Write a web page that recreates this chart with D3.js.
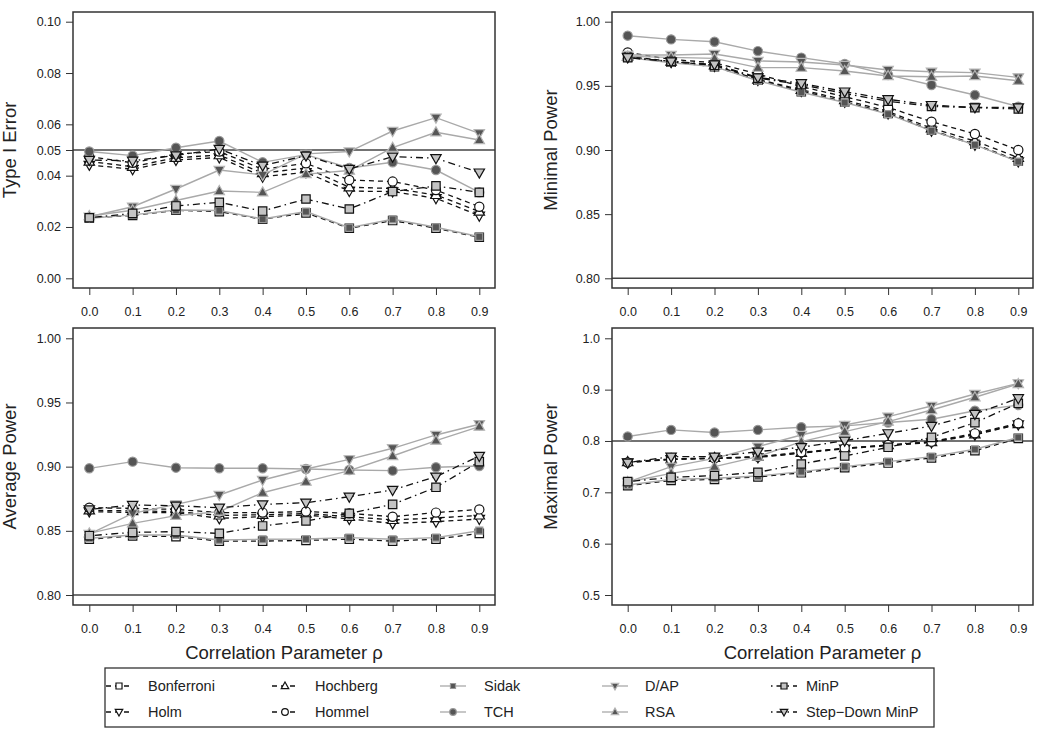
<!DOCTYPE html>
<html><head><meta charset="utf-8">
<script src="https://cdn.jsdelivr.net/npm/d3@7"></script>
<style>body{margin:0;background:#fff} text{font-family:"Liberation Sans",Arial,sans-serif;fill:#222}</style>
</head><body><svg id="c" width="1050" height="735"></svg>
<script>
const rho = [0,0.1,0.2,0.3,0.4,0.5,0.6,0.7,0.8,0.9];
const methods = ["Bonferroni","Holm","Hochberg","Hommel","Sidak","TCH","D/AP","RSA","MinP","Step\u2212Down MinP"];

// rows follow the order of `methods`
const typeIError = [
  [0.0235,0.0245,0.0265,0.026,0.023,0.0255,0.0195,0.0225,0.0195,0.016],
  [0.0442,0.0425,0.0461,0.0471,0.0396,0.0413,0.034,0.0338,0.0312,0.0244],
  [0.0455,0.0435,0.047,0.048,0.041,0.043,0.0355,0.035,0.0325,0.026],
  [0.0474,0.045,0.0484,0.0494,0.0425,0.0448,0.0383,0.0377,0.0344,0.0279],
  [0.0234,0.0247,0.0266,0.0264,0.0231,0.026,0.0197,0.023,0.0199,0.0162],
  [0.0494,0.0478,0.0509,0.0535,0.0452,0.0482,0.043,0.0452,0.0422,0.0335],
  [0.024,0.0279,0.0348,0.0422,0.0403,0.0485,0.0494,0.0574,0.0626,0.0565],
  [0.0243,0.0265,0.0303,0.034,0.0335,0.0406,0.042,0.0509,0.0569,0.0539],
  [0.0236,0.0253,0.0282,0.0296,0.0262,0.0309,0.027,0.0338,0.036,0.0335],
  [0.0461,0.0458,0.0479,0.0504,0.0439,0.0478,0.0426,0.0474,0.0468,0.0412]
];
const minimalPower = [
  [0.9725,0.9685,0.965,0.9545,0.9455,0.9375,0.9285,0.9155,0.9045,0.8915],
  [0.9725,0.9685,0.9655,0.9545,0.946,0.9375,0.9285,0.915,0.904,0.891],
  [0.973,0.969,0.966,0.955,0.947,0.939,0.930,0.917,0.907,0.894],
  [0.976,0.9706,0.968,0.9592,0.9494,0.9416,0.9332,0.9221,0.9125,0.900],
  [0.972,0.968,0.965,0.954,0.945,0.937,0.928,0.915,0.904,0.891],
  [0.9891,0.9862,0.9844,0.9771,0.972,0.967,0.9585,0.9507,0.9429,0.9338],
  [0.974,0.974,0.9748,0.9694,0.9686,0.9662,0.9623,0.961,0.9603,0.9566],
  [0.973,0.9722,0.9714,0.9642,0.9642,0.9616,0.9577,0.9571,0.9577,0.954],
  [0.972,0.969,0.966,0.956,0.951,0.944,0.938,0.934,0.933,0.932],
  [0.9722,0.969,0.9667,0.9566,0.952,0.9455,0.9395,0.935,0.9332,0.9332]
];
const averagePower = [
  [0.8435,0.846,0.8455,0.842,0.842,0.8425,0.8435,0.842,0.8435,0.848],
  [0.865,0.8642,0.8642,0.8597,0.861,0.8623,0.8592,0.8558,0.8571,0.8592],
  [0.866,0.8655,0.865,0.862,0.8625,0.8635,0.861,0.8585,0.86,0.862],
  [0.868,0.8675,0.8667,0.8642,0.8642,0.865,0.8636,0.861,0.8642,0.8667],
  [0.8442,0.8468,0.8468,0.8429,0.8434,0.8436,0.8447,0.8434,0.8447,0.8501],
  [0.8987,0.9039,0.8992,0.8987,0.8987,0.8982,0.8974,0.8969,0.8995,0.9005],
  [0.8475,0.8636,0.8706,0.8779,0.8896,0.8982,0.9057,0.9143,0.9247,0.933],
  [0.848,0.8558,0.8618,0.865,0.8797,0.8883,0.8969,0.9083,0.9203,0.9312],
  [0.8462,0.8488,0.8494,0.848,0.8538,0.8577,0.8636,0.8706,0.8839,0.9039],
  [0.8667,0.8701,0.8696,0.868,0.8706,0.8719,0.8766,0.8818,0.8922,0.9083]
];
const maximalPower = [
  [0.713,0.723,0.725,0.730,0.738,0.748,0.757,0.767,0.781,0.805],
  [0.758,0.7645,0.766,0.768,0.776,0.785,0.791,0.797,0.812,0.832],
  [0.759,0.765,0.767,0.769,0.777,0.786,0.792,0.798,0.813,0.833],
  [0.758,0.764,0.766,0.7695,0.778,0.7857,0.7922,0.7987,0.8149,0.8344],
  [0.7143,0.7253,0.7273,0.7318,0.7403,0.75,0.7597,0.7695,0.7838,0.8071],
  [0.8086,0.8216,0.8164,0.8216,0.8268,0.8294,0.836,0.8424,0.859,0.870],
  [0.72,0.75,0.766,0.789,0.8117,0.8312,0.8474,0.8682,0.8916,0.9123],
  [0.72,0.737,0.75,0.7695,0.7987,0.8182,0.8377,0.8604,0.8851,0.911],
  [0.7208,0.7292,0.7325,0.739,0.7552,0.7708,0.7877,0.8071,0.8357,0.8734],
  [0.7578,0.7695,0.7695,0.7792,0.7877,0.8006,0.8149,0.8292,0.8526,0.8831]
];

const typeITicks = [0,0.02,0.04,0.05,0.06,0.08,0.10];
const powerTicks = [0.80,0.85,0.90,0.95,1.00];
const maxPowerTicks = [0.5,0.6,0.7,0.8,0.9,1.0];
const xTicks = rho;

const panels = [
  {title:"Type I Error", data:typeIError, dom:[0,0.1], ticks:typeITicks, fmt:".2f", ref:0.05,
   box:{l:73,r:495,t:12,b:288}, yr:[278.3,21.7], xr:[89.3,479.3], tx:16, xlab:false},
  {title:"Minimal Power", data:minimalPower, dom:[0.8,1.0], ticks:powerTicks, fmt:".2f", ref:0.80,
   box:{l:612,r:1033,t:12,b:288}, yr:[278.3,21.7], xr:[627.7,1018.3], tx:557, xlab:false},
  {title:"Average Power", data:averagePower, dom:[0.8,1.0], ticks:powerTicks, fmt:".2f", ref:0.80,
   box:{l:73,r:495,t:328,b:605}, yr:[595,338.3], xr:[89.3,479.3], tx:16, xlab:true},
  {title:"Maximal Power", data:maximalPower, dom:[0.5,1.0], ticks:maxPowerTicks, fmt:".1f", ref:0.80,
   box:{l:612,r:1033,t:328,b:605}, yr:[595,338.3], xr:[627.7,1018.3], tx:557, xlab:true}
];

const GRAY="#a9a9a9", DARK="#555", LIGHT="#c4c4c4";
const styles = [
  {line:"#111", dash:"5,4", shape:"square", fill:"#fff", stroke:"#111"},
  {line:"#111", dash:"5,4", shape:"down", fill:"#fff", stroke:"#111"},
  {line:"#111", dash:"5,4", shape:"up", fill:"#fff", stroke:"#111"},
  {line:"#111", dash:"5,4", shape:"circle", fill:"#fff", stroke:"#111"},
  {line:GRAY, dash:null, shape:"square", fill:DARK, stroke:"#999", small:true},
  {line:GRAY, dash:null, shape:"circle", fill:DARK, stroke:"#999"},
  {line:GRAY, dash:null, shape:"down", fill:DARK, stroke:"#b5b5b5"},
  {line:GRAY, dash:null, shape:"up", fill:DARK, stroke:"#b5b5b5"},
  {line:"#111", dash:"1.5,4,7,4", shape:"square", fill:LIGHT, stroke:"#111"},
  {line:"#111", dash:"1.5,4,7,4", shape:"down", fill:LIGHT, stroke:"#111"}
];

function shapePath(shape, small, s){
  if(shape==="square"){ const h = (small?3.5:4.2)*s; return `M${-h},${-h}H${h}V${h}H${-h}Z`; }
  if(shape==="up") return `M0,${-5.5*s}L${5.2*s},${3.6*s}L${-5.2*s},${3.6*s}Z`;
  if(shape==="down") return `M0,${5.5*s}L${5.2*s},${-3.6*s}L${-5.2*s},${-3.6*s}Z`;
  return null;
}
function drawMarker(g, x, y, st, s=1){
  if(st.shape==="circle"){
    g.append("circle").attr("cx",x).attr("cy",y).attr("r",4.6*s)
      .attr("fill",st.fill).attr("stroke",st.stroke).attr("stroke-width",1.2);
  } else {
    g.append("path").attr("d",shapePath(st.shape, st.small, s)).attr("transform",`translate(${x},${y})`)
      .attr("fill",st.fill).attr("stroke",st.stroke).attr("stroke-width",1.2);
  }
}

const svg = d3.select("#c");

panels.forEach(p=>{
  const x = d3.scaleLinear().domain([0,0.9]).range(p.xr);
  const y = d3.scaleLinear().domain(p.dom).range(p.yr);
  const g = svg.append("g");
  const b = p.box;

  const ya = g.append("g").attr("transform",`translate(${b.l},0)`)
    .call(d3.axisLeft(y).tickValues(p.ticks).tickFormat(d3.format(p.fmt)).tickSize(7).tickPadding(5));
  ya.select(".domain").remove();
  ya.selectAll("line").attr("stroke","#333").attr("stroke-width",1);
  ya.selectAll("text").attr("font-size",12.5).attr("fill","#222").style("font-family","'Liberation Sans',Arial,sans-serif");

  const xa = g.append("g").attr("transform",`translate(0,${b.b})`)
    .call(d3.axisBottom(x).tickValues(xTicks).tickFormat(d3.format(".1f")).tickSize(7).tickPadding(12));
  xa.select(".domain").remove();
  xa.selectAll("line").attr("stroke","#333").attr("stroke-width",1);
  xa.selectAll("text").attr("font-size",12.5).attr("fill","#222").style("font-family","'Liberation Sans',Arial,sans-serif");

  g.append("line").attr("x1",b.l).attr("x2",b.r).attr("y1",y(p.ref)).attr("y2",y(p.ref))
    .attr("stroke","#444").attr("stroke-width",1.6);

  const line = d3.line().x((d,i)=>x(rho[i])).y(d=>y(d));
  p.data.forEach((vals,k)=>{
    const st = styles[k];
    const sg = g.append("g");
    sg.append("path").attr("d",line(vals)).attr("fill","none")
      .attr("stroke",st.line).attr("stroke-width",st.dash?1.3:1.4)
      .attr("stroke-dasharray",st.dash);
    vals.forEach((v,i)=>drawMarker(sg, x(rho[i]), y(v), st));
  });

  g.append("rect").attr("x",b.l).attr("y",b.t).attr("width",b.r-b.l).attr("height",b.b-b.t)
    .attr("fill","none").attr("stroke","#333").attr("stroke-width",1.5);

  g.append("text").attr("transform",`translate(${p.tx},${(b.t+b.b)/2}) rotate(-90)`)
    .attr("text-anchor","middle").attr("font-size",18.5).text(p.title);

  if(p.xlab){
    g.append("text").attr("x",(b.l+b.r)/2).attr("y",659).attr("text-anchor","middle")
      .attr("font-size",18.5).text("Correlation Parameter \u03C1");
  }
});

// legend
const lg = svg.append("g");
lg.append("rect").attr("x",105).attr("y",668).attr("width",829).attr("height",59)
  .attr("fill","#fff").attr("stroke","#333").attr("stroke-width",1.3);
const colMarker = [119,285,453,615,784];
const colText = [148,315,484,645,806];
const rowY = [686,712];
methods.forEach((m,k)=>{
  const col = Math.floor(k/2), row = k%2;
  const st = styles[k];
  const mx = colMarker[col], my = rowY[row];
  lg.append("line").attr("x1",mx-13).attr("x2",mx+13).attr("y1",my).attr("y2",my)
    .attr("stroke",st.line).attr("stroke-width",1.3).attr("stroke-dasharray",st.dash);
  drawMarker(lg, mx, my, st, 0.72);
  lg.append("text").attr("x",colText[col]).attr("y",my+5).attr("font-size",14.5).text(m);
});
</script>
</body></html>
